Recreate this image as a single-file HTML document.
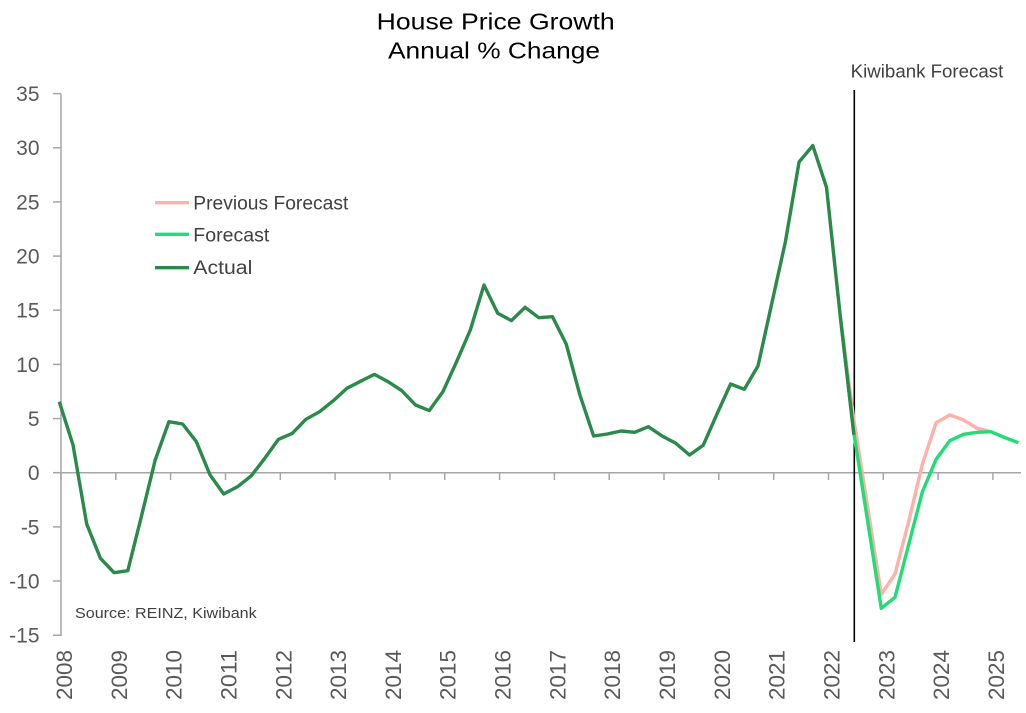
<!DOCTYPE html>
<html>
<head>
<meta charset="utf-8">
<style>
html,body{margin:0;padding:0;background:#fff;}
svg{display:block;}
text{font-family:"Liberation Sans","DejaVu Sans",sans-serif;}
</style>
</head>
<body>
<svg width="1026" height="713" viewBox="0 0 1026 713" xmlns="http://www.w3.org/2000/svg">
<rect width="1026" height="713" fill="#fff"/>
<!-- Title -->
<text x="376.7" y="29.3" font-size="23" fill="#000" textLength="238" lengthAdjust="spacingAndGlyphs">House Price Growth</text>
<text x="388" y="58.7" font-size="23" fill="#000" textLength="212" lengthAdjust="spacingAndGlyphs">Annual % Change</text>

<!-- Y axis -->
<g stroke="#a6a6a6" stroke-width="1.5">
<line x1="61" y1="94" x2="61" y2="636"/>
<line x1="53" y1="93.6" x2="61" y2="93.6"/>
<line x1="53" y1="147.8" x2="61" y2="147.8"/>
<line x1="53" y1="201.9" x2="61" y2="201.9"/>
<line x1="53" y1="256.1" x2="61" y2="256.1"/>
<line x1="53" y1="310.2" x2="61" y2="310.2"/>
<line x1="53" y1="364.4" x2="61" y2="364.4"/>
<line x1="53" y1="418.6" x2="61" y2="418.6"/>
<line x1="53" y1="472.7" x2="61" y2="472.7"/>
<line x1="53" y1="526.9" x2="61" y2="526.9"/>
<line x1="53" y1="581.0" x2="61" y2="581.0"/>
<line x1="53" y1="635.2" x2="61" y2="635.2"/>
<!-- zero line -->
<line x1="61" y1="472.7" x2="1021" y2="472.7"/>
<!-- year ticks -->
<line x1="61" y1="472.7" x2="61" y2="480"/>
<line x1="115.8" y1="472.7" x2="115.8" y2="480"/>
<line x1="170.6" y1="472.7" x2="170.6" y2="480"/>
<line x1="225.5" y1="472.7" x2="225.5" y2="480"/>
<line x1="280.3" y1="472.7" x2="280.3" y2="480"/>
<line x1="335.1" y1="472.7" x2="335.1" y2="480"/>
<line x1="389.9" y1="472.7" x2="389.9" y2="480"/>
<line x1="444.7" y1="472.7" x2="444.7" y2="480"/>
<line x1="499.6" y1="472.7" x2="499.6" y2="480"/>
<line x1="554.4" y1="472.7" x2="554.4" y2="480"/>
<line x1="609.2" y1="472.7" x2="609.2" y2="480"/>
<line x1="664.0" y1="472.7" x2="664.0" y2="480"/>
<line x1="718.8" y1="472.7" x2="718.8" y2="480"/>
<line x1="773.7" y1="472.7" x2="773.7" y2="480"/>
<line x1="828.5" y1="472.7" x2="828.5" y2="480"/>
<line x1="883.3" y1="472.7" x2="883.3" y2="480"/>
<line x1="938.1" y1="472.7" x2="938.1" y2="480"/>
<line x1="992.9" y1="472.7" x2="992.9" y2="480"/>
</g>

<!-- Y labels -->
<g font-size="21" fill="#595959" text-anchor="end">
<text x="39.5" y="101">35</text>
<text x="39.5" y="155.2">30</text>
<text x="39.5" y="209.3">25</text>
<text x="39.5" y="263.5">20</text>
<text x="39.5" y="317.6">15</text>
<text x="39.5" y="371.8">10</text>
<text x="39.5" y="426">5</text>
<text x="39.5" y="480.1">0</text>
<text x="39.5" y="534.3">-5</text>
<text x="39.5" y="588.4">-10</text>
<text x="39.5" y="642.6">-15</text>
</g>

<!-- X labels -->
<g font-size="22" fill="#595959">
<text transform="translate(72,700) rotate(-90)" textLength="50" lengthAdjust="spacingAndGlyphs">2008</text>
<text transform="translate(126.8,700) rotate(-90)" textLength="50" lengthAdjust="spacingAndGlyphs">2009</text>
<text transform="translate(181.6,700) rotate(-90)" textLength="50" lengthAdjust="spacingAndGlyphs">2010</text>
<text transform="translate(236.5,700) rotate(-90)" textLength="50" lengthAdjust="spacingAndGlyphs">2011</text>
<text transform="translate(291.3,700) rotate(-90)" textLength="50" lengthAdjust="spacingAndGlyphs">2012</text>
<text transform="translate(346.1,700) rotate(-90)" textLength="50" lengthAdjust="spacingAndGlyphs">2013</text>
<text transform="translate(400.9,700) rotate(-90)" textLength="50" lengthAdjust="spacingAndGlyphs">2014</text>
<text transform="translate(455.7,700) rotate(-90)" textLength="50" lengthAdjust="spacingAndGlyphs">2015</text>
<text transform="translate(510.6,700) rotate(-90)" textLength="50" lengthAdjust="spacingAndGlyphs">2016</text>
<text transform="translate(565.4,700) rotate(-90)" textLength="50" lengthAdjust="spacingAndGlyphs">2017</text>
<text transform="translate(620.2,700) rotate(-90)" textLength="50" lengthAdjust="spacingAndGlyphs">2018</text>
<text transform="translate(675.0,700) rotate(-90)" textLength="50" lengthAdjust="spacingAndGlyphs">2019</text>
<text transform="translate(729.8,700) rotate(-90)" textLength="50" lengthAdjust="spacingAndGlyphs">2020</text>
<text transform="translate(784.7,700) rotate(-90)" textLength="50" lengthAdjust="spacingAndGlyphs">2021</text>
<text transform="translate(839.5,700) rotate(-90)" textLength="50" lengthAdjust="spacingAndGlyphs">2022</text>
<text transform="translate(894.3,700) rotate(-90)" textLength="50" lengthAdjust="spacingAndGlyphs">2023</text>
<text transform="translate(949.1,700) rotate(-90)" textLength="50" lengthAdjust="spacingAndGlyphs">2024</text>
<text transform="translate(1003.9,700) rotate(-90)" textLength="50" lengthAdjust="spacingAndGlyphs">2025</text>
</g>

<!-- Forecast divider -->
<line x1="854.3" y1="90" x2="854.3" y2="642" stroke="#000" stroke-width="1.6"/>
<text x="850.7" y="77.7" font-size="18" fill="#404040" textLength="152.6" lengthAdjust="spacingAndGlyphs">Kiwibank Forecast</text>

<!-- Source -->
<text x="75" y="618" font-size="15" fill="#404040" textLength="181.7" lengthAdjust="spacingAndGlyphs">Source: REINZ, Kiwibank</text>

<!-- Series -->
<g fill="none" stroke-width="3.4" stroke-linejoin="round" stroke-linecap="butt">
<polyline stroke="#ffb0a8" points="840.2,315.7 853.9,420.0 867.6,507.2 881.3,594.3 895.0,574.0 908.7,521.4 922.4,464.0 936.1,422.7 949.8,415.0 963.5,420.0 977.2,428.3 990.9,431.7"/>
<polyline stroke="#22dd77" points="840.2,315.7 853.9,433.3 867.6,520.8 881.3,608.3 895.0,597.3 908.7,544.5 922.4,491.7 936.1,459.3 949.8,440.7 963.5,434.3 977.2,432.3 990.9,431.7 1004.6,437.5 1018.3,442.7"/>
<polyline stroke="#2a8a4a" points="59.3,401.7 73.0,445.0 86.7,524.0 100.4,558.3 114.1,572.7 127.8,570.7 141.5,516.0 155.2,460.0 168.9,421.7 182.6,424.0 196.3,441.6 210.0,474.9 223.7,494.0 237.4,486.8 251.1,476.0 264.8,458.3 278.5,439.3 292.2,433.4 305.9,419.3 319.6,411.7 333.3,400.7 347.0,388.2 360.7,381.2 374.4,374.4 388.1,381.7 401.8,390.7 415.5,405.0 429.2,410.6 442.9,391.7 456.6,361.7 470.3,330.0 484.0,285.0 497.7,313.3 511.4,320.6 525.1,307.3 538.8,317.7 552.5,316.7 566.2,344.0 579.9,395.0 593.6,436.0 607.3,434.0 621.0,431.0 634.7,432.3 648.4,426.7 662.1,436.0 675.8,443.3 689.5,455.0 703.2,445.3 716.9,414.2 730.6,384.0 744.3,389.3 758.0,366.0 771.7,303.8 785.4,241.7 799.1,161.9 812.8,145.6 826.5,187.3 840.2,315.7 853.9,434.8"/>
</g>

<!-- Legend -->
<g stroke-width="3.4">
<line x1="155" y1="202.7" x2="189" y2="202.7" stroke="#ffb0a8"/>
<line x1="155" y1="234.3" x2="189" y2="234.3" stroke="#22dd77"/>
<line x1="155" y1="267.7" x2="189" y2="267.7" stroke="#2a8a4a"/>
</g>
<g font-size="19" fill="#404040">
<text x="193.3" y="209.5" textLength="155" lengthAdjust="spacingAndGlyphs">Previous Forecast</text>
<text x="193.3" y="241.5" textLength="76" lengthAdjust="spacingAndGlyphs">Forecast</text>
<text x="193.3" y="274" textLength="59" lengthAdjust="spacingAndGlyphs">Actual</text>
</g>
</svg>
</body>
</html>
